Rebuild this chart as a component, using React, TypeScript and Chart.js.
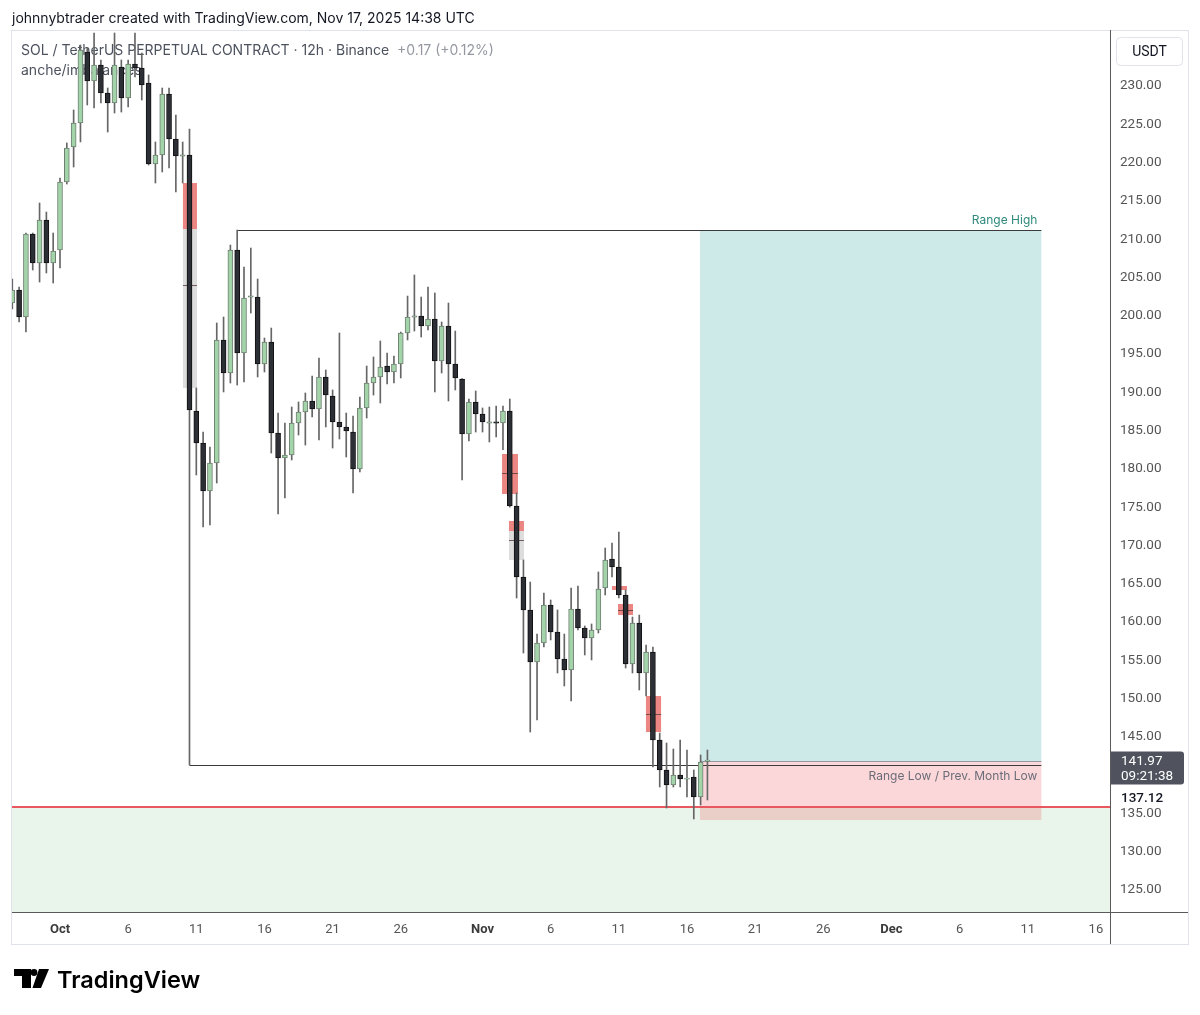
import React, { useEffect, useRef } from "react";
import { Chart, registerables } from "chart.js";

Chart.register(...registerables);

// ---- DATA ----
// 12h candles, first one starts 27 Sep 2025 12:00 UTC (half-day slot -7 from 1 Oct 00:00)
const firstSlot = -7;
const opens = [
  201.66, 203.36, 199.83, 210.67, 206.88, 212.5, 206.88, 208.58, 217.46, 222.03,
  225.17, 234.44, 230.65, 232.74, 229.09, 227.78, 232.48, 228.43, 232.87, 232.35,
  230.39, 219.81, 220.99, 228.96, 223.08, 220.86, 220.99, 187.55, 183.38, 177.11,
  180.76, 196.83, 192.52, 208.58, 195.13, 202.44, 202.44, 193.69, 196.57, 184.68,
  181.42, 181.81, 185.99, 187.42, 188.86, 187.82, 192.0, 189.51, 186.12, 185.47,
  184.81, 179.98, 187.95, 191.21, 192.0, 193.43, 192.65, 193.69, 197.74, 199.83,
  199.96, 198.66, 199.57, 194.08, 198.66, 193.69, 191.74, 184.55, 188.73, 187.16,
  185.99, 186.12, 185.99, 187.55, 175.15, 165.88, 161.57, 154.77, 157.26, 162.22,
  158.69, 155.17, 153.73, 161.7, 159.21, 157.91, 158.95, 164.44, 168.23, 167.18,
  163.53, 154.51, 159.87, 153.34, 156.08, 144.59, 140.67, 138.71, 140.02, 139.49,
  139.76, 137.14, 141.8,
];
const highs = [
  204.79, 203.75, 210.8, 210.8, 214.72, 213.54, 210.8, 217.98, 222.56, 226.87,
  235.35, 234.96, 236.92, 233.4, 229.74, 236.92, 233.4, 233.4, 236.92, 234.31,
  231.44, 222.69, 229.74, 229.74, 226.21, 222.69, 224.38, 190.56, 184.81, 182.85,
  199.05, 199.83, 209.23, 211.19, 206.36, 208.84, 204.79, 197.09, 198.39, 187.29,
  185.99, 188.08, 188.73, 189.91, 192.13, 194.48, 192.91, 190.3, 197.74, 187.29,
  186.9, 189.38, 193.43, 194.61, 196.7, 195.13, 194.74, 197.87, 202.57, 205.32,
  202.44, 203.75, 202.97, 199.18, 201.66, 198.0, 191.8, 189.12, 190.17, 187.95,
  188.08, 188.21, 188.21, 189.12, 176.85, 168.1, 165.22, 158.43, 163.79, 162.87,
  161.57, 158.43, 164.44, 164.7, 159.48, 159.74, 166.53, 169.66, 170.32, 171.75,
  164.18, 160.65, 160.91, 157.0, 156.73, 145.5, 144.2, 143.41, 144.59, 143.28,
  140.67, 142.63, 143.28,
];
const lows = [
  200.88, 199.18, 197.87, 205.97, 204.4, 205.58, 204.27, 206.23, 217.2, 219.42,
  222.69, 227.52, 227.13, 227.78, 223.99, 226.47, 226.6, 227.26, 231.18, 228.17,
  219.68, 217.33, 218.77, 219.29, 216.16, 217.33, 141.32, 179.2, 172.41, 172.67,
  178.15, 190.04, 191.21, 190.95, 191.34, 200.35, 192.0, 192.65, 182.07, 174.1,
  176.19, 181.16, 184.42, 183.11, 186.77, 183.77, 185.47, 182.72, 183.9, 181.55,
  176.85, 179.59, 186.64, 189.64, 188.6, 191.08, 191.21, 191.87, 196.83, 198.0,
  197.22, 198.13, 190.04, 192.52, 188.86, 190.3, 178.54, 183.64, 184.81, 184.81,
  183.51, 184.16, 182.5, 175.0, 163.13, 155.95, 145.63, 147.2, 156.73, 157.65,
  153.34, 151.64, 149.68, 158.95, 155.69, 155.04, 158.56, 163.53, 165.88, 163.13,
  153.99, 153.34, 151.12, 150.33, 141.06, 138.45, 135.71, 138.45, 138.45, 137.14,
  134.27, 136.1, 136.75,
];
const closes = [
  203.36, 199.83, 210.67, 206.88, 212.5, 206.88, 208.45, 217.46, 221.9, 225.17,
  234.7, 230.65, 232.74, 229.09, 227.78, 232.74, 228.43, 232.87, 232.35, 230.13,
  219.81, 220.99, 228.96, 223.08, 220.86, 220.99, 187.69, 183.38, 177.11, 180.76,
  196.83, 192.52, 208.58, 195.13, 202.31, 202.57, 193.69, 196.57, 184.68, 181.42,
  181.81, 185.99, 187.42, 188.86, 187.82, 192.0, 189.64, 186.12, 185.47, 184.94,
  179.98, 187.95, 191.21, 192.0, 193.3, 192.65, 193.69, 197.74, 199.83, 199.96,
  198.66, 199.57, 194.08, 198.66, 193.69, 191.87, 184.55, 188.73, 187.16, 186.12,
  186.12, 185.99, 187.55, 175.15, 165.88, 161.57, 154.77, 157.26, 162.22, 158.69,
  155.17, 153.73, 161.7, 159.21, 157.91, 158.95, 164.31, 168.1, 167.18, 163.53,
  154.51, 159.87, 153.34, 156.08, 144.59, 140.67, 138.71, 140.02, 139.49, 139.6,
  137.14, 141.71, 141.97,
];

const yTickValues = [125, 130, 135, 145, 150, 155, 160, 165, 170, 175, 180, 185, 190, 195, 200, 205, 210, 215, 220, 225, 230];
const xTickDays = [0, 5, 10, 15, 20, 25, 31, 36, 41, 46, 51, 56, 61, 66, 71, 76];
const xTickLabels = ["Oct", "6", "11", "16", "21", "26", "Nov", "6", "11", "16", "21", "26", "Dec", "6", "11", "16"];
const monthLabels = ["Oct", "Nov", "Dec"];

// drawings (x in days from 1 Oct 00:00 UTC, y in USDT)
const rangeHigh = 211.19;
const rangeLow = 141.32;
const rangeHighStart = 13.0;
const rangeLowStart = 9.5;
const drawingsEnd = 72.0;
const positionStart = 46.95;
const entryPrice = 141.85;
const stopPrice = 134.14;
const supportPrice = 135.84;
const lastPrice = 141.97;
const countdown = "09:21:38";
const markedPrice = 137.12;

const fvgStart = [9.02, 32.43, 32.94, 40.5, 40.94, 42.99];
const fvgEnd = [10.05, 33.6, 34.04, 41.6, 42.04, 44.1];
const fvgTop = [217.33, 181.94, 173.19, 164.7, 162.35, 150.33];
const fvgOpenTo = [211.32, 176.72, 171.88, 164.18, 160.91, 145.63];
const fvgBottom = [190.56, 176.72, 168.1, 164.18, 160.91, 145.63];
const fvgMid = [204.01, 179.46, 170.71, null, 161.6, 147.98];

const headerText = "johnnybtrader created with TradingView.com, Nov 17, 2025 14:38 UTC";
const legendTitle = "SOL / TetherUS PERPETUAL CONTRACT · 12h · Binance";
const legendChange = "+0.17 (+0.12%)";
const legendSub = "anche/imbalances";

const FONT = "Roboto, 'Noto Sans', sans-serif";

const overlayPlugin = {
  id: "overlay",
  beforeDraw(chart: any) {
    const { ctx } = chart;
    ctx.save();
    ctx.fillStyle = "#ffffff";
    ctx.fillRect(0, 0, chart.width, chart.height);
    ctx.fillStyle = "#131722";
    ctx.font = `14px Inter, ${FONT}`;
    ctx.textBaseline = "middle";
    ctx.textAlign = "left";
    ctx.fillText(headerText, 12, 19);
    ctx.restore();
  },
  beforeDatasetsDraw(chart: any) {
    const { ctx, chartArea } = chart;
    const x = chart.scales.x;
    const y = chart.scales.y;
    const X = (v: number) => x.getPixelForValue(v);
    const Y = (v: number) => y.getPixelForValue(v);
    ctx.save();
    ctx.beginPath();
    ctx.rect(chartArea.left, chartArea.top, chartArea.right - chartArea.left, chartArea.bottom - chartArea.top);
    ctx.clip();

    // legend text (under candles)
    ctx.textBaseline = "middle";
    ctx.textAlign = "left";
    ctx.font = `14px Inter, ${FONT}`;
    ctx.fillStyle = "#4c525e";
    ctx.fillText(legendTitle, 21, 51);
    const w = ctx.measureText(legendTitle).width;
    ctx.fillStyle = "#9598a1";
    ctx.fillText(legendChange, 21 + w + 8, 51);
    ctx.fillStyle = "#4c525e";
    ctx.fillText(legendSub, 21, 71);

    // demand zone below support
    ctx.fillStyle = "rgba(76,175,80,0.12)";
    ctx.fillRect(chartArea.left, Y(supportPrice), chartArea.right - chartArea.left, chartArea.bottom - Y(supportPrice));

    // long position tool
    const px0 = X(positionStart);
    const px1 = X(drawingsEnd);
    ctx.fillStyle = "rgba(38,166,154,0.23)";
    ctx.fillRect(px0, Y(rangeHigh), px1 - px0, Y(entryPrice) - Y(rangeHigh));
    ctx.fillStyle = "rgba(242,54,69,0.2)";
    ctx.fillRect(px0, Y(entryPrice), px1 - px0, Y(stopPrice) - Y(entryPrice));
    ctx.fillStyle = "#9598a1";
    ctx.fillRect(px0, Math.round(Y(entryPrice)), px1 - px0, 1);

    // imbalance boxes
    for (let i = 0; i < fvgStart.length; i++) {
      const a = X(fvgStart[i]);
      const b = X(fvgEnd[i]);
      ctx.fillStyle = "rgba(226,76,72,0.68)";
      ctx.fillRect(a, Y(fvgTop[i]), b - a, Y(fvgOpenTo[i]) - Y(fvgTop[i]));
      if (fvgBottom[i] < fvgOpenTo[i]) {
        ctx.fillStyle = "rgba(150,150,150,0.32)";
        ctx.fillRect(a, Y(fvgOpenTo[i]), b - a, Y(fvgBottom[i]) - Y(fvgOpenTo[i]));
      }
      const m = fvgMid[i];
      if (m !== null) {
        ctx.fillStyle = "rgba(90,60,60,0.8)";
        ctx.fillRect(a, Math.round(Y(m)), b - a, 1);
      }
    }

    // range lines
    ctx.fillStyle = "#3a3a3a";
    ctx.fillRect(X(rangeHighStart), Math.round(Y(rangeHigh)), px1 - X(rangeHighStart), 1);
    ctx.fillRect(X(rangeLowStart), Math.round(Y(rangeLow)), px1 - X(rangeLowStart), 1);

    // support line (red)
    ctx.fillStyle = "#e8585e";
    ctx.fillRect(chartArea.left, Math.round(Y(supportPrice)) - 1, chartArea.right - chartArea.left, 2);

    // labels
    ctx.font = `12px Inter, ${FONT}`;
    ctx.textAlign = "right";
    ctx.fillStyle = "#2f8a7c";
    ctx.fillText("Range High", px1 - 4, Y(rangeHigh) - 10);
    ctx.fillStyle = "#6a6d78";
    ctx.fillText("Range Low / Prev. Month Low", px1 - 4, Y(rangeLow) + 11);
    ctx.restore();
  },
  afterDraw(chart: any) {
    const { ctx } = chart;
    const y = chart.scales.y;
    ctx.save();
    // frame
    ctx.strokeStyle = "#e0e3eb";
    ctx.lineWidth = 1;
    ctx.strokeRect(11.5, 30.5, 1177, 914);
    ctx.fillStyle = "#5a5a5a";
    ctx.fillRect(1110, 30, 1, 914);
    ctx.fillRect(12, 912, 1176, 1);

    // USDT box
    ctx.fillStyle = "#ffffff";
    ctx.strokeStyle = "#e0e3eb";
    ctx.beginPath();
    (ctx as any).roundRect(1116.5, 37.5, 66, 28, 4);
    ctx.fill();
    ctx.stroke();
    ctx.fillStyle = "#131722";
    ctx.font = `14px ${FONT}`;
    ctx.textAlign = "center";
    ctx.textBaseline = "middle";
    ctx.fillText("USDT", 1149.5, 52);

    // last price label
    const ly = y.getPixelForValue(lastPrice);
    ctx.fillStyle = "#50535e";
    ctx.beginPath();
    (ctx as any).roundRect(1111, ly - 8.5, 73, 33, [0, 3, 3, 0]);
    ctx.fill();
    ctx.fillStyle = "#ffffff";
    ctx.textAlign = "left";
    ctx.font = `13.5px ${FONT}`;
    ctx.fillText(lastPrice.toFixed(2), 1121, ly + 2);
    ctx.fillText(countdown, 1121, ly + 17);

    // marked price label
    const my = y.getPixelForValue(markedPrice);
    ctx.fillStyle = "#131722";
    ctx.font = `500 13.5px ${FONT}`;
    ctx.fillText(markedPrice.toFixed(2), 1121, my + 1);

    // TradingView logo
    ctx.fillStyle = "#000000";
    ctx.fillRect(14, 969, 17, 7);
    ctx.fillRect(22, 969, 9, 19);
    ctx.beginPath();
    ctx.arc(34, 972.5, 3.4, 0, Math.PI * 2);
    ctx.fill();
    ctx.beginPath();
    ctx.moveTo(39, 969);
    ctx.lineTo(49, 969);
    ctx.lineTo(41, 988);
    ctx.lineTo(32.5, 988);
    ctx.closePath();
    ctx.fill();
    ctx.font = `600 23.5px Inter, ${FONT}`;
    ctx.textBaseline = "alphabetic";
    ctx.textAlign = "left";
    ctx.fillText("TradingView", 57, 988);
    ctx.restore();
  },
};

export default function App() {
  const canvasRef = useRef<HTMLCanvasElement | null>(null);

  useEffect(() => {
    const canvas = canvasRef.current;
    if (!canvas) return;
    const days = opens.map((_, i) => (firstSlot + i) / 2);
    const bodies = opens.map((o, i) => {
      const c = closes[i];
      let lo = Math.min(o, c);
      let hi = Math.max(o, c);
      if (hi - lo < 0.16) {
        const m = (hi + lo) / 2;
        lo = m - 0.08;
        hi = m + 0.08;
      }
      return { x: days[i], y: [lo, hi] };
    });
    const wicks = highs.map((h, i) => ({ x: days[i], y: [lows[i], h] }));
    const up = opens.map((o, i) => closes[i] >= o);

    const chart = new Chart(canvas, {
      type: "bar",
      data: {
        datasets: [
          {
            data: bodies as any,
            backgroundColor: up.map((u) => (u ? "#a3d3a9" : "#2d2f36")),
            borderColor: up.map((u) => (u ? "#6f7f72" : "#111111")),
            borderWidth: 1,
            borderSkipped: false,
            barThickness: 5,
            grouped: false,
            order: 0,
          } as any,
          {
            data: wicks as any,
            backgroundColor: "#666666",
            borderWidth: 0,
            barThickness: 1,
            grouped: false,
            order: 1,
          } as any,
        ],
      },
      plugins: [overlayPlugin],
      options: {
        animation: false,
        responsive: false,
        devicePixelRatio: 1,
        layout: { padding: { left: 12, top: 30, right: 12, bottom: 71 } },
        plugins: { legend: { display: false }, tooltip: { enabled: false } },
        scales: {
          x: {
            type: "linear",
            min: -3.522,
            max: 77.036,
            offset: false,
            grid: { display: false, drawTicks: false, tickLength: 0 },
            border: { display: false },
            afterBuildTicks: (s: any) => {
              s.ticks = xTickDays.map((v) => ({ value: v }));
            },
            afterFit: (s: any) => {
              s.height = 32;
            },
            ticks: {
              autoSkip: false,
              maxRotation: 0,
              padding: 10,
              color: (c: any) => (monthLabels.includes(xTickLabels[c.index]) ? "#3b3b3b" : "#555555"),
              font: (c: any) => ({
                family: FONT,
                size: 13,
                weight: monthLabels.includes(xTickLabels[c.index]) ? "bold" : "normal",
              }),
              callback: (_v: any, i: number) => xTickLabels[i],
            },
          },
          y: {
            type: "linear",
            position: "right",
            min: 122.125,
            max: 237.314,
            grid: { display: false, drawTicks: false, tickLength: 0 },
            border: { display: false },
            afterBuildTicks: (s: any) => {
              s.ticks = yTickValues.map((v) => ({ value: v }));
            },
            afterFit: (s: any) => {
              s.width = 78;
            },
            ticks: {
              autoSkip: false,
              padding: 10,
              color: "#555555",
              font: { family: FONT, size: 13.5 },
              callback: (v: any) => Number(v).toFixed(2),
            },
          },
        },
      } as any,
    });
    return () => chart.destroy();
  }, []);

  return (
    <div style={{ position: "absolute", left: 0, top: 0, width: 1200, height: 1015, background: "#fff" }}>
      <canvas ref={canvasRef} width={1200} height={1015} style={{ width: 1200, height: 1015, display: "block" }} />
    </div>
  );
}
